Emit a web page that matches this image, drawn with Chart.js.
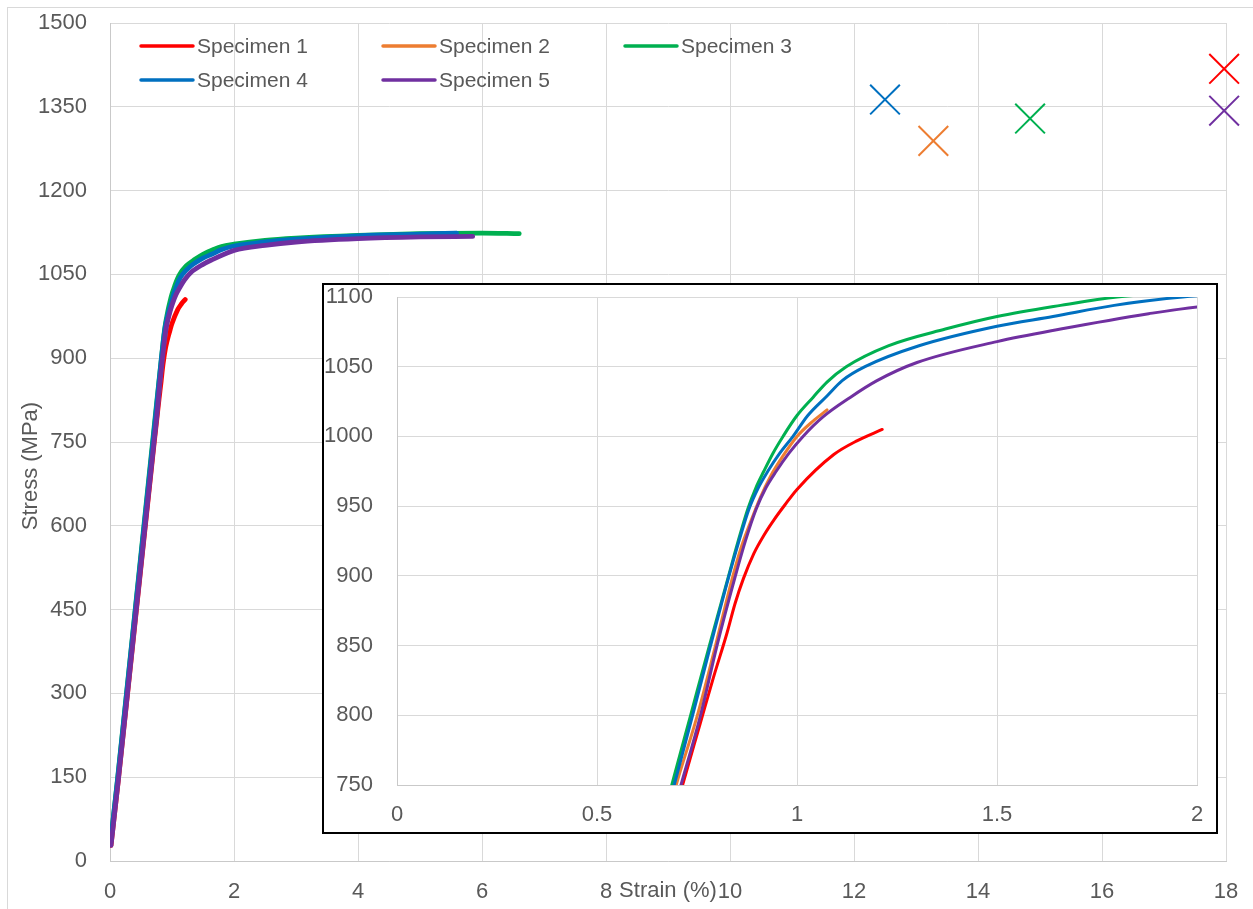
<!DOCTYPE html>
<html>
<head>
<meta charset="utf-8">
<script src="https://cdn.jsdelivr.net/npm/chart.js@4.4.1/dist/chart.umd.min.js"></script>
<style>
html,body{margin:0;padding:0;background:#fff;overflow:hidden}
#wrap{position:relative;width:1253px;height:909px}
#frame{position:absolute;left:7px;top:7px;width:1250px;height:910px;border:1px solid #d9d9d9;box-sizing:border-box}
#main{position:absolute;left:0;top:0}
#inset{position:absolute;left:322px;top:283px;width:896px;height:551px;border:2px solid #000;box-sizing:border-box;background:#fff}
#insetCanvas{position:absolute;left:0;top:0}
</style>
</head>
<body>
<div id="wrap">
  <div id="frame"></div>
  <canvas id="main" width="1253" height="909"></canvas>
  <div id="inset"><canvas id="insetCanvas" width="892" height="547"></canvas></div>
</div>
<script>
// ---------- data ----------
const seriesNames = ["Specimen 1", "Specimen 2", "Specimen 3", "Specimen 4", "Specimen 5"];
const seriesColors = ["#FF0000", "#ED7D31", "#00B050", "#0070C0", "#7030A0"];

const strain1 = [0.016, 0.13, 0.40, 0.712, 0.758, 0.791, 0.825, 0.845, 0.866, 0.892, 0.917, 0.942, 0.97, 1.0, 1.092, 1.151, 1.213];
const stress1 = [28, 140, 422, 748, 794, 827, 859, 880, 898, 916, 929, 940, 951, 962, 987, 997, 1005];

const strain2 = [0.012, 0.125, 0.40, 0.698, 0.75, 0.791, 0.837, 0.86, 0.883, 0.908, 0.933, 0.965, 1.0, 1.04, 1.075];
const stress2 = [32, 142, 432, 750, 799, 844, 897, 920, 938, 956, 971, 986, 1000, 1011, 1019];

const strain3 = [0.01, 0.12, 0.40, 0.687, 0.734, 0.781, 0.829, 0.853, 0.877, 0.897, 0.917, 0.94, 0.965, 1.0, 1.04, 1.075, 1.123, 1.228, 1.371, 1.5, 1.659, 1.8, 2.0, 2.5, 3.0, 4.0, 5.0, 6.0, 6.6];
const stress3 = [34, 145, 443, 750, 800, 850, 900, 925, 948, 963, 975, 988, 1000, 1015, 1028, 1039, 1050, 1065, 1077, 1086, 1094, 1100, 1104, 1111, 1115, 1120, 1123, 1124, 1123];

const strain4 = [0.01, 0.122, 0.40, 0.693, 0.739, 0.783, 0.83, 0.856, 0.88, 0.903, 0.927, 0.957, 0.99, 1.027, 1.075, 1.113, 1.170, 1.305, 1.5, 1.640, 1.793, 1.964, 2.5, 3.0, 4.0, 5.0, 5.59];
const stress4 = [34, 145, 440, 750, 800, 849, 900, 926, 948, 963, 975, 988, 1000, 1015, 1029, 1040, 1050, 1065, 1079, 1086, 1094, 1100, 1108, 1113, 1119, 1122, 1124];

const strain5 = [0.016, 0.134, 0.40, 0.708, 0.758, 0.8, 0.846, 0.872, 0.898, 0.922, 0.948, 0.98, 1.015, 1.065, 1.133, 1.2, 1.3, 1.5, 1.659, 1.879, 2.003, 2.5, 3.0, 4.0, 5.0, 5.85];
const stress5 = [28, 145, 425, 748, 799, 850, 900, 926, 948, 963, 975, 988, 1000, 1014, 1028, 1040, 1053, 1068, 1077, 1088, 1093, 1102, 1108, 1114, 1117, 1118];

// fracture points (X markers), specimen 1..5
const fractureStrain = [17.97, 13.28, 14.84, 12.50, 17.97];
const fractureStress = [1418, 1289, 1329, 1363, 1343];

// tick values
const mainXTicks = [0, 2, 4, 6, 8, 10, 12, 14, 16, 18];
const mainYTicks = [0, 150, 300, 450, 600, 750, 900, 1050, 1200, 1350, 1500];
const insetXTicks = [0, 0.5, 1, 1.5, 2];
const insetYTicks = [750, 800, 850, 900, 950, 1000, 1050, 1100];

const xTitle = "Strain (%)";
const yTitle = "Stress (MPa)";

// ---------- build ----------
const strains = [strain1, strain2, strain3, strain4, strain5];
const stresses = [stress1, stress2, stress3, stress4, stress5];
const FONT = "'Liberation Sans', Arial, sans-serif";
const TXT = "#595959";
const GRID = "#d9d9d9";

function lineDatasets(width) {
  return strains.map((s, i) => ({
    type: 'line',
    label: seriesNames[i],
    data: s.map((x, j) => ({x: x, y: stresses[i][j]})),
    borderColor: seriesColors[i],
    backgroundColor: seriesColors[i],
    borderWidth: width,
    pointRadius: 0,
    fill: false,
    cubicInterpolationMode: 'monotone',
    borderCapStyle: 'round',
    borderJoinStyle: 'round',
    order: 5 - i
  }));
}

const setTicks = arr => scale => { scale.ticks = arr.map(v => ({value: v})); };
const fitX = h => s => { s.height = h; s.paddingLeft = 0; s.paddingRight = 0; s.paddingTop = 0; s.paddingBottom = 0; };
const fitY = w => s => { s.width = w; s.paddingLeft = 0; s.paddingRight = 0; s.paddingTop = 0; s.paddingBottom = 0; };

const mainDecor = {
  id: 'mainDecor',
  afterDraw(chart) {
    const ctx = chart.ctx;
    ctx.save();
    // legend
    const cols = [141, 383, 625];
    const rows = [46, 80];
    ctx.font = "21px " + FONT;
    ctx.textBaseline = 'middle';
    ctx.textAlign = 'left';
    seriesNames.forEach((n, i) => {
      const x = cols[i % 3], y = rows[Math.floor(i / 3)];
      ctx.strokeStyle = seriesColors[i];
      ctx.lineWidth = 3.5;
      ctx.lineCap = 'round';
      ctx.beginPath(); ctx.moveTo(x, y); ctx.lineTo(x + 52, y); ctx.stroke();
      ctx.fillStyle = TXT;
      ctx.fillText(n, x + 56, y + 1);
    });
    // axis titles
    ctx.font = "22px " + FONT;
    ctx.fillStyle = TXT;
    ctx.textAlign = 'center';
    const ca = chart.chartArea;
    ctx.fillText(xTitle, (ca.left + ca.right) / 2, 891);
    ctx.translate(31, 466);
    ctx.rotate(-Math.PI / 2);
    ctx.fillText(yTitle, 0, 0);
    ctx.restore();
  }
};

const mainDatasets = lineDatasets(4.8);
mainDatasets.push({
  type: 'scatter',
  label: 'Fracture',
  data: fractureStrain.map((x, i) => ({x: x, y: fractureStress[i]})),
  pointStyle: 'crossRot',
  pointRadius: 21,
  pointBorderWidth: 2,
  pointBorderColor: seriesColors,
  pointBackgroundColor: seriesColors,
  showLine: false,
  clip: false,
  order: -1
});

new Chart(document.getElementById('main'), {
  type: 'line',
  data: {datasets: mainDatasets},
  options: {
    responsive: false,
    animation: false,
    devicePixelRatio: 1,
    layout: {padding: {left: 0, top: 21, right: 27, bottom: 0}},
    plugins: {legend: {display: false}, tooltip: {enabled: false}},
    scales: {
      x: {
        type: 'linear', min: 0, max: 18,
        afterBuildTicks: setTicks(mainXTicks),
        afterFit: fitX(48),
        grid: {color: GRID, lineWidth: 1, drawTicks: false},
        border: {color: '#c9c9c9', width: 1},
        ticks: {padding: 18, color: TXT, font: {family: FONT, size: 22}, maxRotation: 0, autoSkip: false, callback: v => String(v)}
      },
      y: {
        type: 'linear', min: 0, max: 1500,
        afterBuildTicks: setTicks(mainYTicks),
        afterFit: fitY(110),
        grid: {color: GRID, lineWidth: 1, drawTicks: false},
        border: {color: '#c9c9c9', width: 1},
        ticks: {padding: 23, color: TXT, font: {family: FONT, size: 22}, autoSkip: false, callback: v => String(v)}
      }
    }
  },
  plugins: [mainDecor]
});

new Chart(document.getElementById('insetCanvas'), {
  type: 'line',
  data: {datasets: lineDatasets(3)},
  options: {
    responsive: false,
    animation: false,
    devicePixelRatio: 1,
    layout: {padding: {left: 0, top: 12, right: 19, bottom: 0}},
    plugins: {legend: {display: false}, tooltip: {enabled: false}},
    scales: {
      x: {
        type: 'linear', min: 0, max: 2,
        afterBuildTicks: setTicks(insetXTicks),
        afterFit: fitX(47),
        grid: {color: GRID, lineWidth: 1, drawTicks: false},
        border: {color: '#c9c9c9', width: 1},
        ticks: {padding: 17, color: TXT, font: {family: FONT, size: 22}, maxRotation: 0, autoSkip: false, callback: v => String(v)}
      },
      y: {
        type: 'linear', min: 750, max: 1100,
        afterBuildTicks: setTicks(insetYTicks),
        afterFit: fitY(73),
        grid: {color: GRID, lineWidth: 1, drawTicks: false},
        border: {color: '#c9c9c9', width: 1},
        ticks: {padding: 24, color: TXT, font: {family: FONT, size: 22}, autoSkip: false, callback: v => String(v)}
      }
    }
  }
});
</script>
</body>
</html>
